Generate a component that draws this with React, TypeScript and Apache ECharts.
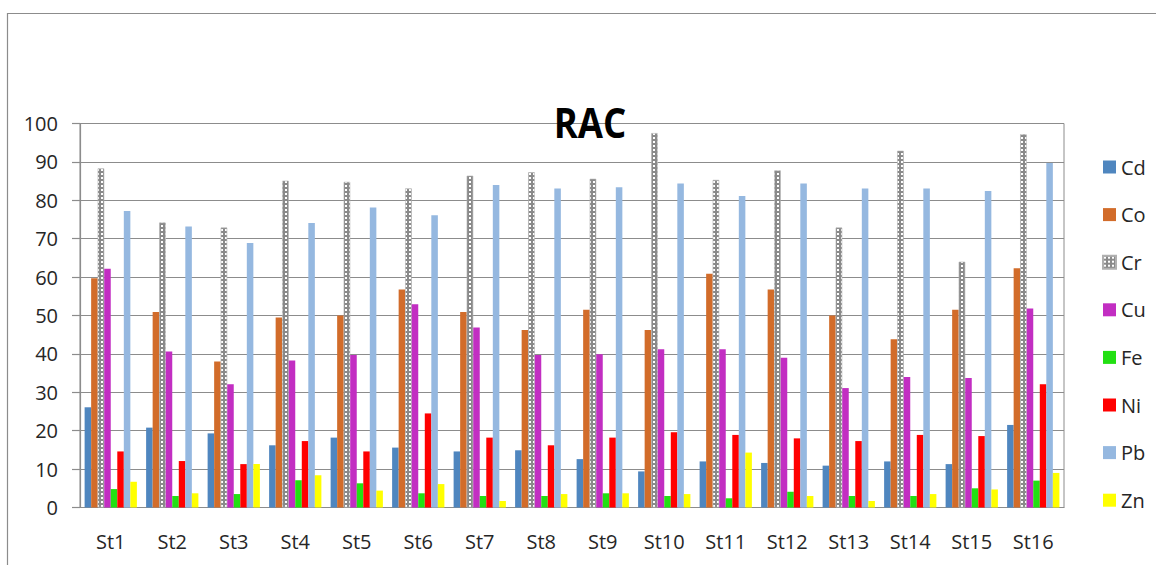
import React, { useEffect, useRef } from "react";
import * as echarts from "echarts";

const stations = ["St1", "St2", "St3", "St4", "St5", "St6", "St7", "St8", "St9", "St10", "St11", "St12", "St13", "St14", "St15", "St16"];
const yTicks = { min: 0, max: 100, interval: 10 };

const cd = [26.1, 20.8, 19.3, 16.2, 18.2, 15.6, 14.6, 14.9, 12.6, 9.4, 12.0, 11.6, 10.9, 12.0, 11.3, 21.5];
const co = [59.7, 50.9, 38.0, 49.5, 50.0, 56.8, 50.9, 46.2, 51.5, 46.2, 60.9, 56.8, 50.0, 43.8, 51.5, 62.3];
const cr = [88.3, 74.2, 72.9, 85.1, 84.8, 83.1, 86.4, 87.3, 85.6, 97.5, 85.3, 87.8, 72.9, 92.9, 64.0, 97.2];
const cu = [62.2, 40.6, 32.1, 38.3, 39.7, 52.9, 46.9, 39.7, 39.9, 41.2, 41.2, 39.0, 31.1, 34.0, 33.7, 51.8];
const fe = [4.8, 3.0, 3.5, 7.1, 6.3, 3.7, 3.0, 3.0, 3.7, 3.0, 2.4, 4.1, 3.0, 3.0, 5.0, 7.0];
const ni = [14.6, 12.1, 11.3, 17.3, 14.6, 24.5, 18.2, 16.2, 18.2, 19.6, 18.9, 18.0, 17.3, 18.9, 18.6, 32.1];
const pb = [77.2, 73.2, 68.9, 74.1, 78.1, 76.1, 84.0, 83.1, 83.4, 84.4, 81.1, 84.4, 83.1, 83.1, 82.4, 89.7];
const zn = [6.7, 3.7, 11.3, 8.4, 4.4, 6.1, 1.7, 3.5, 3.7, 3.5, 14.3, 3.0, 1.7, 3.5, 4.7, 9.0];

const metals = ["Cd", "Co", "Cr", "Cu", "Fe", "Ni", "Pb", "Zn"];
const values = [cd, co, cr, cu, fe, ni, pb, zn];

const FONT = "'Open Sans', 'Liberation Sans', sans-serif";
const GRID_COLOR = "#8c8c8c";
const TEXT_COLOR = "#262626";

// small dotted tile used as the fill of the Cr bars
function makeDotPattern(): HTMLCanvasElement {
  const c = document.createElement("canvas");
  c.width = 4;
  c.height = 4;
  const ctx = c.getContext("2d")!;
  ctx.fillStyle = "#8a8a8a";
  ctx.fillRect(0, 0, 4, 4);
  ctx.fillStyle = "#ffffff";
  ctx.fillRect(1, 1, 2, 2);
  return c;
}

export default function App() {
  const ref = useRef<HTMLDivElement>(null);

  useEffect(() => {
    if (!ref.current) return;
    const chart = echarts.init(ref.current, null, { renderer: "svg" });
    const pattern = makeDotPattern();

    const colors: any[] = [
      "#4f86bf",
      "#d26c2a",
      { image: pattern, repeat: "repeat", imageWidth: 4, imageHeight: 4 },
      "#c22ec2",
      "#22e012",
      "#ff0000",
      "#95b8e0",
      "#ffff00",
    ];

    chart.setOption({
      animation: false,
      backgroundColor: "#ffffff",
      textStyle: { fontFamily: FONT },
      graphic: [
        {
          type: "rect",
          silent: true,
          shape: { x: 7.5, y: 13.5, width: 1300, height: 700 },
          style: { fill: "none", stroke: GRID_COLOR, lineWidth: 1.2 },
        },
        {
          type: "text",
          x: 590,
          y: 122,
          scaleX: 0.87,
          z: 10,
          style: {
            text: "RAC",
            font: `bold 42px ${FONT}`,
            fill: "#000000",
            textAlign: "center",
            textVerticalAlign: "middle",
          },
        },
      ],
      legend: {
        orient: "vertical",
        left: 1102,
        top: 157,
        padding: 0,
        itemWidth: 13,
        itemHeight: 13,
        itemGap: 27.6,
        icon: "rect",
        textStyle: { fontSize: 20, color: TEXT_COLOR, fontFamily: FONT, lineHeight: 20 },
        data: metals,
      },
      grid: {
        left: 80,
        top: 123.5,
        right: 92,
        bottom: 57.5,
        show: true,
        borderColor: GRID_COLOR,
        borderWidth: 1,
        containLabel: false,
      },
      xAxis: {
        type: "category",
        data: stations,
        axisLine: { show: true, lineStyle: { color: GRID_COLOR, width: 1.2 } },
        axisTick: { show: false },
        axisLabel: { fontSize: 20, color: TEXT_COLOR, margin: 24, fontFamily: FONT },
      },
      yAxis: {
        type: "value",
        min: yTicks.min,
        max: yTicks.max,
        interval: yTicks.interval,
        axisLine: { show: true, lineStyle: { color: GRID_COLOR, width: 1.2 } },
        axisTick: { show: true, length: 8, lineStyle: { color: GRID_COLOR, width: 1.2 } },
        splitLine: { show: true, lineStyle: { color: GRID_COLOR, width: 1.2 } },
        axisLabel: { fontSize: 20, color: TEXT_COLOR, margin: 22, fontFamily: FONT },
      },
      series: metals.map((name, i) => ({
        name,
        type: "bar",
        data: values[i],
        barGap: "0%",
        barCategoryGap: "15%",
        itemStyle:
          i === 2
            ? { color: colors[i], borderColor: "#b0b0b0", borderWidth: 0.6 }
            : { color: colors[i] },
      })),
    });

    return () => chart.dispose();
  }, []);

  return (
    <div
      ref={ref}
      style={{ position: "fixed", left: 0, top: 0, width: 1156, height: 565 }}
    />
  );
}
